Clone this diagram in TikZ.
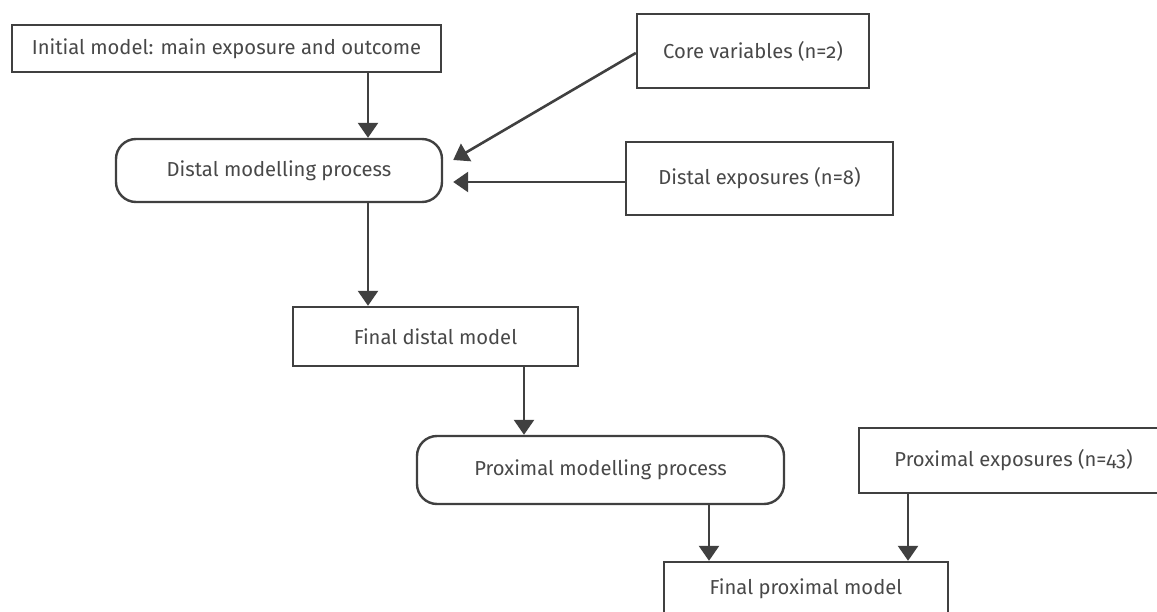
\documentclass[tikz,border=0pt]{standalone}
\usepackage{fontspec}
\setmainfont{Fira Sans}[Numbers=OldStyle]
\usetikzlibrary{arrows.meta,calc}
\definecolor{ln}{HTML}{404040}
\definecolor{tx}{HTML}{484848}
\tikzset{
  box/.style={draw=ln, line width=2.4pt, fill=white, inner sep=0pt, text=tx, font=\fontsize{20.2}{24}\selectfont},
  rbox/.style={box, rounded corners=20pt},
  arr/.style={draw=ln, line width=2.6pt, -{Triangle[width=20pt,length=15pt]}},
}
\begin{document}
\begin{tikzpicture}[x=1pt,y=-1pt]
\useasboundingbox (0,0) rectangle (1157,612);
\begin{scope}
\clip (0,0) rectangle (1157,612);
\node[box, minimum width=429pt, minimum height=47pt] (init) at (226.5,48.5) {Initial model: main exposure and outcome};
\node[rbox, minimum width=326pt, minimum height=63pt] (dist) at (279,170.5) {Distal modelling process};
\node[box, minimum width=232pt, minimum height=74pt] (core) at (753,51) {Core variables (n=2)};
\node[box, minimum width=267pt, minimum height=73pt] (dexp) at (759.5,178.5) {Distal exposures (n=8)};
\node[box, minimum width=285pt, minimum height=59pt] (fdist) at (435.5,336.5) {Final distal model};
\node[rbox, minimum width=367pt, minimum height=68pt] (prox) at (600.5,470) {Proximal modelling process};
\node[box, minimum width=309pt, minimum height=65pt] (pexp) at (1013.5,460.5) {Proximal exposures (n=43)};
\node[box, minimum width=284pt, minimum height=54pt] (fprox) at (806,589) {Final proximal model};
\coordinate (t1) at ($(dist.east)+(10,-10.5)$);
\coordinate (t2) at ($(dist.east)+(10,11.5)$);
\draw[arr] (init.south -| 368,0) -- (dist.north -| 368,0);
\draw[arr] (core.west |- 0,53) -- (t1);
\draw[arr] (dexp.west |- t2) -- (t2);
\draw[arr] (dist.south -| 368,0) -- (fdist.north -| 368,0);
\draw[arr] (fdist.south -| 524,0) -- (prox.north -| 524,0);
\draw[arr] (prox.south -| 709,0) -- (fprox.north -| 709,0);
\draw[arr] (pexp.south -| 908,0) -- (fprox.north -| 908,0);
\end{scope}
\end{tikzpicture}
\end{document}
